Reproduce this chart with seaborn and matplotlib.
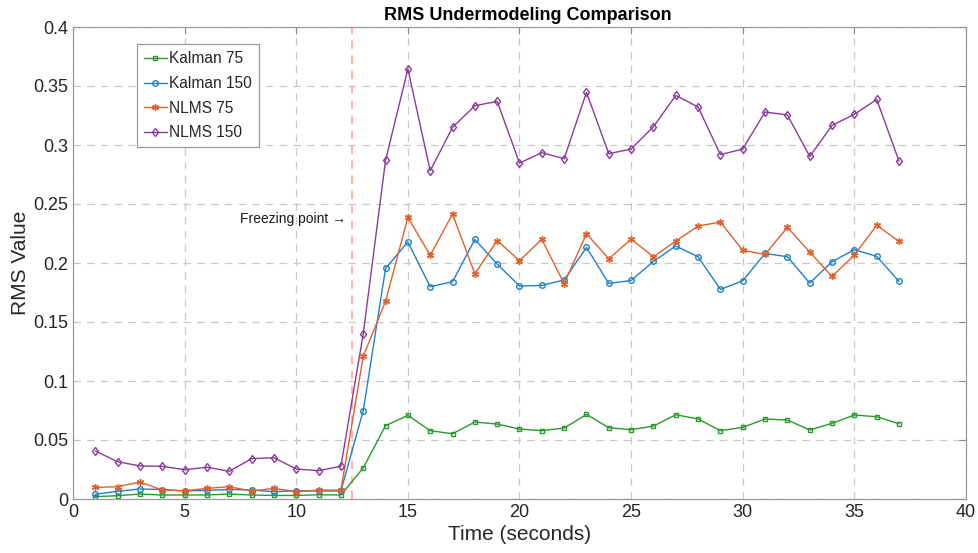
import numpy as np
import pandas as pd
import matplotlib
matplotlib.use("Agg")
import matplotlib.pyplot as plt
import seaborn as sns

# Time samples (seconds)
time_s = list(range(1, 38))

kalman_75 = [0.002, 0.0028, 0.0042, 0.0034, 0.0034, 0.0034, 0.0042, 0.0034, 0.003, 0.003,
             0.0036, 0.0034, 0.0263, 0.0621, 0.0709, 0.0579, 0.0553, 0.0652, 0.0635, 0.0593,
             0.0579, 0.0601, 0.0717, 0.0604, 0.0587, 0.0618, 0.0714, 0.0678, 0.0579, 0.0607,
             0.0678, 0.0669, 0.0585, 0.0641, 0.0712, 0.0697, 0.0638]

kalman_150 = [0.004, 0.0065, 0.0085, 0.008, 0.0068, 0.0073, 0.0081, 0.0076, 0.0062, 0.007,
              0.0068, 0.0068, 0.0748, 0.1954, 0.2178, 0.1799, 0.1841, 0.2200, 0.1991, 0.1805,
              0.1810, 0.1856, 0.2132, 0.1827, 0.1852, 0.2014, 0.2144, 0.2053, 0.1776, 0.1850,
              0.2081, 0.2053, 0.1830, 0.2011, 0.2113, 0.2056, 0.1844]

nlms_75 = [0.0098, 0.0104, 0.0144, 0.0076, 0.007, 0.009, 0.0104, 0.0068, 0.009, 0.0062,
           0.0076, 0.0075, 0.121, 0.1675, 0.2387, 0.2065, 0.2415, 0.1909, 0.2189, 0.2020,
           0.2200, 0.1825, 0.2248, 0.2036, 0.2202, 0.2053, 0.2186, 0.2313, 0.2347, 0.2107,
           0.2073, 0.2302, 0.2093, 0.1886, 0.2068, 0.2319, 0.2183]

nlms_150 = [0.0407, 0.0316, 0.028, 0.0277, 0.0248, 0.0269, 0.0235, 0.0342, 0.035, 0.0254,
            0.024, 0.0277, 0.1398, 0.2870, 0.3644, 0.2782, 0.3149, 0.3333, 0.3370, 0.2847,
            0.2935, 0.2884, 0.3446, 0.2926, 0.2966, 0.3155, 0.3420, 0.3322, 0.2918, 0.2966,
            0.3280, 0.3254, 0.2903, 0.3166, 0.3260, 0.3386, 0.2864]

series_names = ["Kalman 75", "Kalman 150", "NLMS 75", "NLMS 150"]
series_values = [kalman_75, kalman_150, nlms_75, nlms_150]
series_colors = ["#2a9a2a", "#1f80c8", "#e0602a", "#8a3a9c"]
series_markers = ["s", "o", (6, 2, 0), "d"]
series_msize = [3.4, 4.0, 5.0, 4.4]

freeze_time = 12.5

x_ticks = [0, 5, 10, 15, 20, 25, 30, 35, 40]
y_ticks = [0, 0.05, 0.1, 0.15, 0.2, 0.25, 0.3, 0.35, 0.4]
y_tick_labels = ["0", "0.05", "0.1", "0.15", "0.2", "0.25", "0.3", "0.35", "0.4"]

df = pd.DataFrame({
    "Time": np.tile(time_s, len(series_names)),
    "RMS": np.concatenate(series_values),
    "Method": np.repeat(series_names, len(time_s)),
})

sns.set_style("white")
plt.rcParams["font.family"] = ["Liberation Sans", "DejaVu Sans"]

fig = plt.figure(figsize=(9.79, 5.53), dpi=100)
ax = fig.add_axes([73 / 979, 1 - 499 / 553, (966 - 73) / 979, (499 - 27) / 553])

for name, color, marker, ms in zip(series_names, series_colors, series_markers, series_msize):
    sub = df[df["Method"] == name]
    sns.lineplot(data=sub, x="Time", y="RMS", ax=ax, color=color, linewidth=1.0,
                 marker=marker, markersize=ms, markerfacecolor="none",
                 markeredgecolor=color, markeredgewidth=1.0, label=name)

# Moment the adaptive filters were frozen
ax.axvline(freeze_time, color="#ff9090", linestyle=(0, (5, 4)), linewidth=1.2, alpha=0.8, zorder=1)
ax.text(freeze_time - 0.25, 0.237, "Freezing point \u2192", ha="right", va="center",
        fontsize=10, color="#1a1a1a")

ax.set_xlim(0, 40)
ax.set_ylim(0, 0.4)
ax.set_xticks(x_ticks)
ax.set_yticks(y_ticks)
ax.set_yticklabels(y_tick_labels)
ax.tick_params(axis="both", which="both", direction="in", length=5, width=0.8,
               labelsize=13, colors="#888888", labelcolor="#262626",
               top=True, right=True)
ax.grid(True, linestyle=(0, (6, 5)), color="#c8c8c8", linewidth=0.9)
for sp in ax.spines.values():
    sp.set_color("#9a9a9a")
    sp.set_linewidth(0.9)

ax.set_xlabel("Time (seconds)", fontsize=15, color="#262626", labelpad=3)
ax.set_ylabel("RMS Value", fontsize=15, color="#262626", labelpad=2)
ax.set_title("RMS Undermodeling Comparison", fontsize=13, fontweight="bold", color="#000000",
             pad=5, x=0.509)

leg = ax.legend(loc="upper left", bbox_to_anchor=(0.0717, 0.963), borderaxespad=0,
                fontsize=11.2, frameon=True, fancybox=False, edgecolor="#9a9a9a", framealpha=1,
                handlelength=1.45, handletextpad=0.15, borderpad=0.45, labelspacing=0.62)
leg.get_frame().set_linewidth(0.9)

fig.savefig("out.png", dpi=100)
